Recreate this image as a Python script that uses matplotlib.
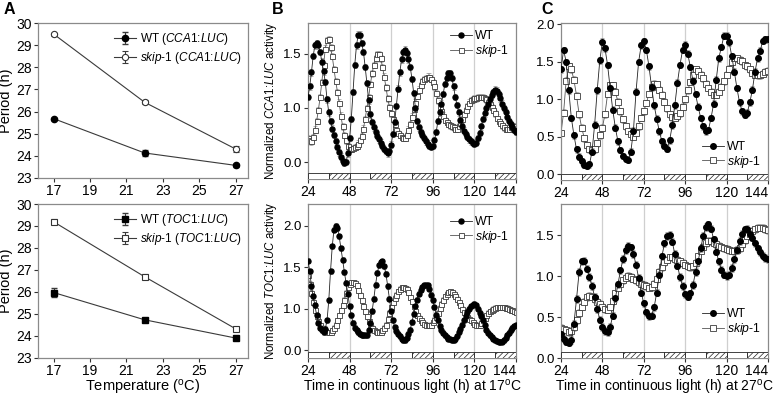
import numpy as np
import matplotlib.pyplot as plt
from matplotlib.patches import Rectangle

plt.rcParams['font.family'] = ['Liberation Sans', 'DejaVu Sans']
plt.rcParams['mathtext.fontset'] = 'custom'
plt.rcParams['mathtext.rm'] = 'Liberation Sans'
plt.rcParams['mathtext.it'] = 'Liberation Sans:italic'
plt.rcParams['hatch.linewidth'] = 0.5

# ---- panel A: free-running period vs temperature ----
temps = [17, 22, 27]
wt_cca1_period = [25.68, 24.13, 23.57]
wt_cca1_err = [0.05, 0.12, 0.06]
skip_cca1_period = [29.50, 26.42, 24.31]
skip_cca1_err = [0.07, 0.08, 0.12]
wt_toc1_period = [25.97, 24.73, 23.90]
wt_toc1_err = [0.22, 0.09, 0.09]
skip_toc1_period = [29.19, 26.69, 24.32]
skip_toc1_err = [0.12, 0.12, 0.08]

# ---- panel B: 17C traces, sampled every hour from 24 to 144 h ----
hours_17 = np.arange(24, 145, 1)
wt_cca1_17 = [
    1.10, 1.20, 1.33, 1.48, 1.58, 1.60, 1.58, 1.52, 1.43, 1.34,
    1.24, 1.08, 0.96, 0.88, 0.81, 0.75, 0.69, 0.64, 0.59, 0.55,
    0.51, 0.49, 0.50, 0.58, 0.72, 0.90, 1.15, 1.40, 1.58, 1.68,
    1.68, 1.60, 1.52, 1.38, 1.23, 1.07, 0.94, 0.87, 0.82, 0.78,
    0.74, 0.71, 0.68, 0.65, 0.62, 0.60, 0.58, 0.60, 0.66, 0.76,
    0.87, 1.02, 1.18, 1.33, 1.45, 1.52, 1.54, 1.51, 1.45, 1.38,
    1.27, 1.14, 1.00, 0.88, 0.82, 0.78, 0.75, 0.72, 0.69, 0.67,
    0.65, 0.64, 0.65, 0.70, 0.78, 0.88, 0.96, 1.04, 1.13, 1.22,
    1.28, 1.32, 1.32, 1.28, 1.20, 1.10, 1.03, 0.96, 0.89, 0.83,
    0.79, 0.76, 0.73, 0.71, 0.69, 0.68, 0.67, 0.68, 0.72, 0.77,
    0.83, 0.90, 0.95, 1.00, 1.04, 1.08, 1.12, 1.15, 1.17, 1.16,
    1.13, 1.09, 1.04, 1.00, 0.96, 0.92, 0.88, 0.85, 0.82, 0.80,
    0.78]
skip_cca1_17 = [
    0.72, 0.70, 0.69, 0.73, 0.80, 0.88, 0.98, 1.10, 1.24, 1.40,
    1.55, 1.63, 1.64, 1.56, 1.48, 1.36, 1.25, 1.15, 1.05, 0.93,
    0.83, 0.75, 0.70, 0.65, 0.62, 0.62, 0.63, 0.64, 0.65, 0.67,
    0.70, 0.74, 0.81, 0.90, 1.00, 1.10, 1.22, 1.32, 1.40, 1.46,
    1.50, 1.50, 1.46, 1.38, 1.29, 1.19, 1.09, 1.01, 0.95, 0.90,
    0.85, 0.80, 0.77, 0.75, 0.73, 0.72, 0.72, 0.75, 0.80, 0.85,
    0.92, 0.99, 1.05, 1.11, 1.17, 1.21, 1.25, 1.27, 1.28, 1.29,
    1.29, 1.27, 1.24, 1.20, 1.14, 1.07, 1.01, 0.97, 0.93, 0.89,
    0.87, 0.85, 0.84, 0.83, 0.82, 0.81, 0.81, 0.83, 0.86, 0.90,
    0.94, 0.98, 1.02, 1.05, 1.07, 1.08, 1.09, 1.09, 1.10, 1.10,
    1.10, 1.10, 1.09, 1.08, 1.06, 1.04, 1.01, 0.98, 0.95, 0.91,
    0.88, 0.86, 0.84, 0.82, 0.81, 0.81, 0.81, 0.82, 0.82, 0.83,
    0.83]
wt_toc1_17 = [
    1.58, 1.45, 1.27, 1.15, 1.04, 0.92, 0.83, 0.77, 0.74, 0.72,
    0.76, 0.86, 1.10, 1.45, 1.75, 1.95, 2.00, 1.97, 1.87, 1.73,
    1.59, 1.44, 1.31, 1.18, 1.03, 0.92, 0.83, 0.77, 0.74, 0.72,
    0.70, 0.69, 0.68, 0.68, 0.68, 0.74, 0.83, 0.97, 1.12, 1.29,
    1.43, 1.52, 1.56, 1.57, 1.51, 1.42, 1.27, 1.12, 0.97, 0.86,
    0.78, 0.73, 0.70, 0.67, 0.64, 0.62, 0.62, 0.65, 0.70, 0.75,
    0.84, 0.94, 1.03, 1.11, 1.18, 1.23, 1.26, 1.28, 1.28, 1.28,
    1.24, 1.17, 1.10, 1.02, 0.93, 0.86, 0.79, 0.74, 0.71, 0.68,
    0.66, 0.64, 0.63, 0.62, 0.62, 0.63, 0.67, 0.72, 0.76, 0.81,
    0.86, 0.91, 0.96, 1.00, 1.03, 1.05, 1.06, 1.04, 1.00, 0.95,
    0.91, 0.86, 0.80, 0.75, 0.71, 0.68, 0.66, 0.64, 0.62, 0.61,
    0.60, 0.60, 0.60, 0.62, 0.65, 0.68, 0.71, 0.74, 0.77, 0.79,
    0.80]
skip_toc1_17 = [
    1.40, 1.30, 1.19, 1.08, 0.98, 0.91, 0.85, 0.80, 0.77, 0.75,
    0.73, 0.72, 0.72, 0.72, 0.74, 0.77, 0.81, 0.86, 0.92, 0.98,
    1.04, 1.11, 1.19, 1.26, 1.30, 1.32, 1.32, 1.31, 1.28, 1.22,
    1.17, 1.10, 1.03, 0.97, 0.91, 0.85, 0.80, 0.77, 0.75, 0.73,
    0.72, 0.72, 0.72, 0.74, 0.77, 0.81, 0.88, 0.95, 1.02, 1.08,
    1.13, 1.17, 1.21, 1.24, 1.26, 1.26, 1.25, 1.24, 1.20, 1.14,
    1.09, 1.03, 0.97, 0.92, 0.89, 0.86, 0.84, 0.82, 0.81, 0.80,
    0.80, 0.81, 0.84, 0.87, 0.90, 0.95, 1.01, 1.06, 1.11, 1.15,
    1.18, 1.20, 1.21, 1.20, 1.18, 1.15, 1.12, 1.08, 1.04, 1.00,
    0.96, 0.93, 0.90, 0.88, 0.86, 0.84, 0.82, 0.81, 0.80, 0.81,
    0.83, 0.86, 0.89, 0.92, 0.95, 0.97, 0.99, 1.00, 1.01, 1.02,
    1.02, 1.02, 1.02, 1.02, 1.01, 1.01, 1.00, 0.99, 0.98, 0.97,
    0.96]

# ---- panel C: 27C traces, sampled every 1.5 h from 24 to 144 h ----
hours_27 = np.arange(24, 144.1, 1.5)
wt_cca1_27 = [
    1.40, 1.66, 1.50, 1.12, 0.75, 0.52, 0.33, 0.23, 0.17, 0.12,
    0.11, 0.13, 0.30, 0.66, 1.12, 1.52, 1.77, 1.68, 1.46, 1.15,
    0.86, 0.62, 0.44, 0.32, 0.24, 0.20, 0.19, 0.30, 0.58, 1.10,
    1.50, 1.72, 1.78, 1.66, 1.44, 1.17, 0.92, 0.74, 0.57, 0.44,
    0.38, 0.34, 0.45, 0.65, 0.92, 1.22, 1.46, 1.66, 1.73, 1.61,
    1.43, 1.25, 1.07, 0.90, 0.75, 0.64, 0.57, 0.59, 0.75, 0.94,
    1.26, 1.55, 1.70, 1.85, 1.85, 1.76, 1.58, 1.37, 1.15, 0.96,
    0.84, 0.79, 0.82, 0.96, 1.13, 1.37, 1.55, 1.65, 1.78, 1.80,
    1.80]
skip_cca1_27 = [
    0.55, 0.82, 1.25, 1.44, 1.40, 1.26, 1.05, 0.80, 0.62, 0.48,
    0.39, 0.33, 0.32, 0.33, 0.41, 0.52, 0.62, 0.80, 1.07, 1.19,
    1.19, 1.10, 0.97, 0.84, 0.73, 0.64, 0.58, 0.54, 0.50, 0.55,
    0.64, 0.75, 0.84, 0.95, 1.07, 1.16, 1.21, 1.20, 1.13, 1.06,
    0.97, 0.88, 0.80, 0.76, 0.75, 0.77, 0.81, 0.90, 1.00, 1.12,
    1.23, 1.33, 1.40, 1.38, 1.33, 1.28, 1.21, 1.15, 1.10, 1.06,
    1.06, 1.10, 1.17, 1.24, 1.33, 1.41, 1.50, 1.55, 1.55, 1.53,
    1.51, 1.46, 1.44, 1.40, 1.35, 1.33, 1.32, 1.32, 1.34, 1.37,
    1.38]
wt_toc1_27 = [
    0.29, 0.24, 0.20, 0.19, 0.22, 0.42, 0.72, 1.05, 1.18, 1.19,
    1.09, 0.99, 0.88, 0.75, 0.60, 0.47, 0.38, 0.33, 0.32, 0.38,
    0.52, 0.73, 0.90, 1.07, 1.21, 1.32, 1.37, 1.35, 1.27, 1.14,
    0.98, 0.80, 0.67, 0.56, 0.51, 0.52, 0.62, 0.80, 1.02, 1.24,
    1.40, 1.49, 1.50, 1.42, 1.27, 1.13, 0.99, 0.88, 0.78, 0.75,
    0.79, 0.89, 1.05, 1.18, 1.34, 1.49, 1.60, 1.63, 1.58, 1.45,
    1.30, 1.18, 1.08, 1.02, 1.00, 1.02, 1.10, 1.21, 1.32, 1.43,
    1.52, 1.57, 1.58, 1.52, 1.47, 1.40, 1.34, 1.29, 1.25, 1.22,
    1.21]
skip_toc1_27 = [
    0.37, 0.35, 0.34, 0.32, 0.33, 0.38, 0.46, 0.55, 0.63, 0.69,
    0.74, 0.76, 0.75, 0.72, 0.69, 0.66, 0.63, 0.60, 0.59, 0.62,
    0.70, 0.79, 0.86, 0.91, 0.95, 0.98, 1.00, 0.99, 0.97, 0.95,
    0.93, 0.91, 0.89, 0.88, 0.86, 0.87, 0.91, 0.97, 1.05, 1.11,
    1.17, 1.20, 1.23, 1.23, 1.21, 1.20, 1.18, 1.16, 1.14, 1.12,
    1.11, 1.12, 1.16, 1.24, 1.31, 1.36, 1.40, 1.43, 1.43, 1.41,
    1.39, 1.37, 1.35, 1.34, 1.33, 1.32, 1.31, 1.31, 1.32, 1.34,
    1.39, 1.44, 1.49, 1.52, 1.55, 1.57, 1.59, 1.59, 1.59, 1.57,
    1.56]
# typical s.e.m. of the traces (gray error ticks)
trace_err_17 = 0.03
trace_err_27 = 0.045

# subjective day / night blocks under the traces (12 h each)
day_starts = [24, 48, 72, 96, 120]
night_starts = [36, 60, 84, 108, 132]

time_ticks = [24, 48, 72, 96, 120, 144]
grid_hours = [48, 72, 96, 120]

skip_label = r'$\it{skip}$-$\it{1}$'
line_col = '#3a3a3a'
frame_col = '#8a8a8a'


def style_axes(ax):
    for s in ax.spines.values():
        s.set_color(frame_col)
        s.set_linewidth(0.9)
    ax.tick_params(direction='out', length=3, width=0.8, color='#333333',
                   labelsize=10, pad=1.5)


def period_panel(ax, wt, wt_err, sk, sk_err, marker, reporter, show_xlabel):
    ax.errorbar(temps, wt, yerr=wt_err, marker=marker, color=line_col, mfc='black',
                mec='black', ms=4.5, lw=0.8, elinewidth=0.8, capsize=2,
                label=r'WT ($\it{%s}$:$\it{LUC}$)' % reporter)
    ax.errorbar(temps, sk, yerr=sk_err, marker=marker, color=line_col, mfc='white',
                mec='#333333', mew=0.8, ms=4.5, lw=0.8, elinewidth=0.8, capsize=2,
                label=skip_label + r' ($\it{%s}$:$\it{LUC}$)' % reporter)
    ax.set_xlim(16.14, 27.68)
    ax.set_ylim(23, 30)
    ax.set_xticks([17, 19, 21, 23, 25, 27])
    ax.set_yticks(range(23, 31))
    ax.set_ylabel('Period (h)', fontsize=10.5, labelpad=2)
    if show_xlabel:
        ax.set_xlabel(r'Temperature ($^{\rm o}$C)', fontsize=10.5, labelpad=0)
    style_axes(ax)
    ax.legend(loc='upper right', frameon=False, fontsize=8.5, handlelength=1.9,
              handletextpad=0.3, labelspacing=0.25, borderaxespad=0.3,
              bbox_to_anchor=(1.01, 1.0))


def time_panel(ax, t, wt, sk, err, ylim, yticks, yticklabels, ms, legend_loc,
               legend_anchor, ylabel=None, xlabel=None):
    for h in grid_hours:
        ax.axvline(h, color='#cfcfcf', lw=0.9, zorder=0)
    ax.errorbar(t, sk, yerr=err, fmt='none', ecolor='#9a9a9a', elinewidth=0.5,
                capsize=1.2, capthick=0.5, zorder=1.5)
    ax.errorbar(t, wt, yerr=err, fmt='none', ecolor='#8a8a8a', elinewidth=0.5,
                capsize=1.2, capthick=0.5, zorder=2.5)
    sk_line, = ax.plot(t, sk, '-s', color='#555555', mfc='white', mec='#3a3a3a',
                       mew=0.6, ms=ms, lw=0.6, zorder=2)
    wt_line, = ax.plot(t, wt, '-o', color='#222222', mfc='black', mec='black',
                       ms=ms, lw=0.6, zorder=3)
    # light / dark bar along the bottom of the axes
    trans = ax.get_xaxis_transform()
    for d in day_starts:
        ax.add_patch(Rectangle((d, 0.0), 12, 0.04, transform=trans, facecolor='white',
                               edgecolor='#222222', lw=0.6, zorder=4))
    for n in night_starts:
        ax.add_patch(Rectangle((n, 0.0), 12, 0.04, transform=trans, facecolor='white',
                               edgecolor='#222222', hatch='//////', lw=0.6, zorder=4))
    ax.set_xlim(24, 144)
    ax.set_ylim(*ylim)
    ax.set_xticks(time_ticks)
    ax.set_yticks(yticks)
    ax.set_yticklabels(yticklabels)
    style_axes(ax)
    ax.tick_params(axis='y', labelsize=9.5)
    # the last hour label sits inside the right edge, as in the original
    ax.xaxis.get_major_ticks()[-1].label1.set_horizontalalignment('right')
    if ylabel:
        ax.set_ylabel(ylabel, fontsize=8.3, labelpad=3)
    if xlabel:
        ax.set_xlabel(xlabel, fontsize=10, labelpad=0)
    ax.legend([wt_line, sk_line], ['WT', skip_label], loc=legend_loc,
              bbox_to_anchor=legend_anchor, frameon=False, fontsize=8.8,
              handlelength=1.8, handletextpad=0.2, labelspacing=0.05,
              borderaxespad=0.2)


fig = plt.figure(figsize=(7.74, 3.98), dpi=100)

axA1 = fig.add_axes([0.0491, 0.5528, 0.2713, 0.3894])
axA2 = fig.add_axes([0.0491, 0.1010, 0.2713, 0.3864])
axB1 = fig.add_axes([0.3979, 0.5503, 0.2687, 0.3920])
axB2 = fig.add_axes([0.3979, 0.1000, 0.2687, 0.3875])
axC1 = fig.add_axes([0.7248, 0.5477, 0.2674, 0.3945])
axC2 = fig.add_axes([0.7248, 0.1000, 0.2674, 0.3875])

period_panel(axA1, wt_cca1_period, wt_cca1_err, skip_cca1_period, skip_cca1_err,
             'o', 'CCA1', False)
period_panel(axA2, wt_toc1_period, wt_toc1_err, skip_toc1_period, skip_toc1_err,
             's', 'TOC1', True)

# B: the lowest tick reads 0.0 in the original figure
time_panel(axB1, hours_17, wt_cca1_17, skip_cca1_17, trace_err_17, (0.343, 1.787),
           [0.5, 1.0, 1.5], ['0.0', '1.0', '1.5'], 3.6, 'upper right', (1.0, 1.0),
           ylabel=r'Normalized $\it{CCA1}$:$\it{LUC}$ activity')
time_panel(axB2, hours_17, wt_toc1_17, skip_toc1_17, trace_err_17, (0.405, 2.26),
           [0.5, 1.0, 1.5, 2.0], ['0.0', '1.0', '1.5', '2.0'], 3.6, 'upper right', (1.0, 0.97),
           ylabel=r'Normalized $\it{TOC1}$:$\it{LUC}$ activity',
           xlabel=r'Time in continuous light (h) at 17$^{\rm o}$C')
time_panel(axC1, hours_27, wt_cca1_27, skip_cca1_27, trace_err_27, (-0.08, 2.02),
           [0.0, 0.5, 1.0, 1.5, 2.0], ['0.0', '0.5', '1.0', '1.5', '2.0'], 4.0,
           'lower right', (1.0, 0.02))
time_panel(axC2, hours_27, wt_toc1_27, skip_toc1_27, trace_err_27, (0.0, 1.88),
           [0.0, 0.5, 1.0, 1.5], ['0.0', '0.5', '1.0', '1.5'], 4.0,
           'lower right', (1.0, 0.09),
           xlabel=r'Time in continuous light (h) at 27$^{\rm o}$C')

for x, lab in [(0.004, 'A'), (0.351, 'B'), (0.700, 'C')]:
    fig.text(x, 0.995, lab, fontsize=11.5, fontweight='bold', va='top', ha='left')

fig.savefig('out.png', dpi=100)
